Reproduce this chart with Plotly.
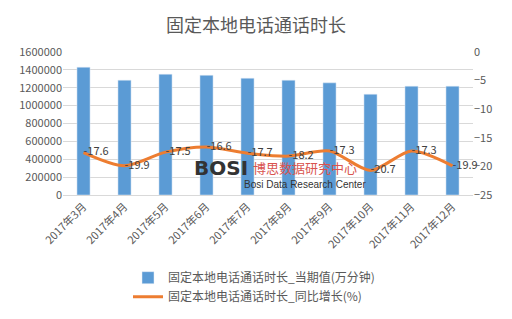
import plotly.graph_objects as go

categories = ["2017年3月", "2017年4月", "2017年5月", "2017年6月", "2017年7月",
              "2017年8月", "2017年9月", "2017年10月", "2017年11月", "2017年12月"]
values = [1430000, 1285000, 1352000, 1340000, 1307000,
          1285000, 1255000, 1128000, 1218000, 1218000]
growth = [-17.6, -19.9, -17.5, -16.6, -17.7, -18.2, -17.3, -20.7, -17.3, -19.9]
growth_labels = ["-17.6", "-19.9", "-17.5", "-16.6", "-17.7", "-18.2", "-17.3", "-20.7", "-17.3", "-19.9"]

name_bar = "固定本地电话通话时长_当期值(万分钟)"
name_line = "固定本地电话通话时长_同比增长(%)"

font_family = "Noto Sans CJK SC, Noto Sans, sans-serif"
gray = "#595959"

fig = go.Figure()
fig.add_trace(go.Bar(
    x=categories, y=values, name=name_bar,
    marker=dict(color="#5B9BD5"), width=0.32, yaxis="y"))
fig.add_trace(go.Scatter(
    x=categories, y=growth, name=name_line, yaxis="y2",
    mode="lines+text", text=growth_labels, textposition="middle right",
    cliponaxis=False,
    textfont=dict(size=11, color="#404040", family=font_family),
    line=dict(color="#ED7D31", width=3, shape="spline", smoothing=0.8)))

fig.update_layout(
    width=512, height=319,
    margin=dict(l=63, r=39, t=52, b=124, autoexpand=False),
    paper_bgcolor="white", plot_bgcolor="white",
    font=dict(family=font_family, size=11, color=gray),
    title=dict(text="固定本地电话通话时长", x=0.5, xref="container", xanchor="center",
               y=0.94, yref="container",
               font=dict(size=18, color=gray, family=font_family)),
    bargap=0.5,
    xaxis=dict(tickangle=-45, showgrid=False, showline=True, linecolor="#D9D9D9",
               ticks="", tickfont=dict(size=11, color=gray), automargin=False),
    yaxis=dict(range=[0, 1600000], dtick=200000, showgrid=True, gridcolor="#D9D9D9",
               zeroline=False, tickfont=dict(size=11, color=gray), tickformat="d",
               automargin=False),
    yaxis2=dict(range=[-25, 0], dtick=5, overlaying="y", side="right",
                showgrid=False, zeroline=False, tickfont=dict(size=11, color=gray),
                automargin=False),
    legend=dict(orientation="v", x=0.25, xref="container", y=0.175, yref="container",
                xanchor="left", yanchor="top",
                font=dict(size=12, color=gray), bgcolor="rgba(0,0,0,0)"),
    showlegend=True,
)

# watermark
fig.add_annotation(x=0.385, y=0.09, xref="paper", yref="paper", text="<b>BOSI</b>",
                   showarrow=False, font=dict(size=20, color="#333333", family="DejaVu Sans"))
fig.add_annotation(x=0.59, y=0.11, xref="paper", yref="paper", text="博思数据研究中心",
                   showarrow=False, font=dict(size=13, color="#D9544F", family=font_family))
fig.add_annotation(x=0.59, y=0.02, xref="paper", yref="paper", text="Bosi Data Research Center",
                   showarrow=False, font=dict(size=10, color="#333333", family="Liberation Sans"))

fig.write_html("out.html")
